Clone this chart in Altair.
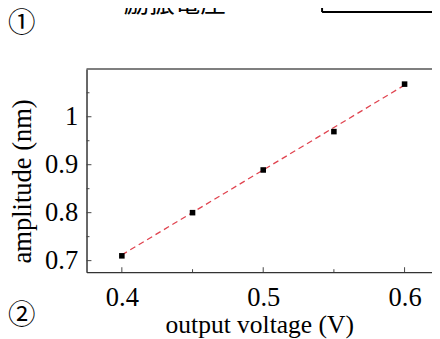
import altair as alt
import pandas as pd

# data
voltage = [0.40, 0.45, 0.50, 0.55, 0.60]
amplitude = [0.710, 0.800, 0.889, 0.969, 1.068]
fit_x = [0.40, 0.60]
fit_y = [0.712, 1.066]
major_x = [0.4, 0.5, 0.6]
minor_x = [0.45, 0.55]
major_y = [0.7, 0.8, 0.9, 1.0]
minor_y = [0.75, 0.85, 0.95, 1.05]
x_domain = [0.375, 0.6194]
y_domain = [0.676, 1.0996]

W, H = 352, 207
SERIF = "Liberation Serif"
FS = 27

pts = pd.DataFrame({"x": voltage, "y": amplitude})
fit = pd.DataFrame({"x": fit_x, "y": fit_y})

xs = alt.Scale(domain=x_domain, nice=False, zero=False)
ys = alt.Scale(domain=y_domain, nice=False, zero=False)

xaxis = alt.Axis(values=major_x, format=".1f", ticks=False, grid=False,
                 domainColor="#333", domainWidth=1.5,
                 labelFont=SERIF, labelFontSize=FS, labelColor="black", labelPadding=13,
                 title="output voltage (V)", titleFont=SERIF, titleFontSize=26,
                 titleFontWeight="normal", titleColor="black", titlePadding=1)
yaxis = alt.Axis(values=major_y, format=".1~f", ticks=False, grid=False,
                 domainColor="#333", domainWidth=1.5,
                 labelFont=SERIF, labelFontSize=FS, labelColor="black", labelPadding=9,
                 title="amplitude (nm)", titleFont=SERIF, titleFontSize=FS,
                 titleFontWeight="normal", titleColor="black", titlePadding=8,
                 titleY=114)

line = alt.Chart(fit).mark_line(color="#e0434f", strokeDash=[6, 4], strokeWidth=1.3).encode(
    x=alt.X("x:Q", scale=xs, axis=xaxis),
    y=alt.Y("y:Q", scale=ys, axis=yaxis),
)
points = alt.Chart(pts).mark_square(color="black", size=32, opacity=1).encode(
    x=alt.X("x:Q", scale=xs), y=alt.Y("y:Q", scale=ys)
)

def xticks(vals, length):
    return alt.Chart(pd.DataFrame({"x": vals})).mark_rule(color="#444", strokeWidth=1).encode(
        x=alt.X("x:Q", scale=xs), y=alt.value(H), y2=alt.value(H - length))

def yticks(vals, length):
    return alt.Chart(pd.DataFrame({"y": vals})).mark_rule(color="#444", strokeWidth=1).encode(
        y=alt.Y("y:Q", scale=ys), x=alt.value(0), x2=alt.value(length))

top_border = alt.Chart(pd.DataFrame({"a": [0]})).mark_rule(color="#555", strokeWidth=1.5).encode(
    x=alt.value(0), x2=alt.value(W), y=alt.value(0))

# partial box at top right (cut by the picture's edge)
box_h = alt.Chart(pd.DataFrame({"a": [0]})).mark_rule(color="black", strokeWidth=2).encode(
    x=alt.value(240), x2=alt.value(W), y=alt.value(-58))
box_v = alt.Chart(pd.DataFrame({"a": [0]})).mark_rule(color="black", strokeWidth=2).encode(
    x=alt.value(240), y=alt.value(-70), y2=alt.value(-58))

def label(txt, x, y, size=22, font="Noto Sans CJK JP"):
    return alt.Chart(pd.DataFrame({"t": [txt]})).mark_text(
        font=font, fontSize=size, color="black", align="center", baseline="middle").encode(
        text="t:N", x=alt.value(x), y=alt.value(y))

chart = alt.layer(
    top_border, box_h, box_v,
    xticks(major_x, 5), xticks(minor_x, 3),
    yticks(major_y, 5), yticks(minor_y, 3),
    line, points,
    label("①", -66, -46, size=28),
    label("②", -66, 252, size=28),
    label("励振電圧", 90, -66, size=26),
).properties(
    width=W, height=H,
    autosize=alt.AutoSizeParams(type="none"),
    padding={"left": 80, "top": 59, "right": 0, "bottom": 65},
).configure_view(stroke=None)

chart.save("out.html", embed_options={"renderer": "svg", "actions": False})
